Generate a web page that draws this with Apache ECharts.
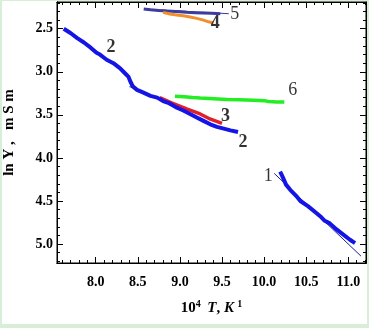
<!DOCTYPE html>
<html><head><meta charset="utf-8">
<script src="https://cdn.jsdelivr.net/npm/echarts@6/dist/echarts.min.js"></script>
<style>
html,body{margin:0;padding:0;background:#d9eed9;width:369px;height:328px;overflow:hidden;}
#c{position:absolute;left:2px;top:1px;width:365px;height:323px;background:#fff;}
</style>
</head><body><div id="c"></div>
<script>
// ---- data ----
var xTickLabels = [8.0, 8.5, 9.0, 9.5, 10.0, 10.5, 11.0];
var yTickLabels = [2.5, 3.0, 3.5, 4.0, 4.5, 5.0];

var curve1 = [[10.19,4.16],[10.22,4.22],[10.26,4.31],[10.31,4.37],[10.38,4.44],[10.43,4.50],[10.52,4.56],[10.62,4.64],[10.68,4.69],[10.72,4.73],[10.78,4.76],[10.86,4.83],[10.94,4.89],[11.02,4.95],[11.08,4.99]];
var fit1 = [[10.12,4.18],[11.15,5.14]];
var curve2 = [[7.62,2.50],[7.70,2.55],[7.78,2.61],[7.86,2.66],[7.94,2.72],[8.01,2.78],[8.05,2.80],[8.13,2.86],[8.21,2.90],[8.29,2.96],[8.35,3.02],[8.39,3.06],[8.41,3.11],[8.44,3.17],[8.49,3.21],[8.56,3.24],[8.65,3.28],[8.73,3.30],[8.80,3.34],[8.86,3.36],[8.95,3.41],[9.04,3.45],[9.12,3.49],[9.20,3.53],[9.28,3.57],[9.36,3.61],[9.44,3.64],[9.52,3.66],[9.60,3.68],[9.69,3.70]];
var fit2 = [[8.40,3.174],[8.47,3.186]];
var curve3 = [[8.76,3.30],[8.90,3.36],[9.08,3.43],[9.24,3.49],[9.34,3.54],[9.42,3.57],[9.50,3.60]];
var curve4 = [[8.80,2.31],[8.88,2.33],[8.96,2.34],[9.04,2.35],[9.12,2.365],[9.20,2.38],[9.28,2.40],[9.34,2.42],[9.40,2.434]];
var curve5 = [[8.57,2.27],[8.65,2.28],[8.75,2.29],[8.84,2.295],[8.95,2.30],[9.08,2.31],[9.18,2.315],[9.28,2.318],[9.38,2.322],[9.48,2.326]];
var fit5 = [[8.60,2.272],[9.58,2.326]];
var curve6 = [[8.94,3.285],[9.05,3.29],[9.15,3.30],[9.24,3.305],[9.35,3.31],[9.45,3.315],[9.56,3.322],[9.70,3.325],[9.87,3.33],[10.00,3.335],[10.05,3.345],[10.15,3.35],[10.24,3.35]];
var curveLabels = [
  {name:'5', value:[9.65,2.33]},
  {name:'4', value:[9.42,2.44]},
  {name:'2', value:[8.18,2.72]},
  {name:'6', value:[10.34,3.22]},
  {name:'3', value:[9.54,3.52]},
  {name:'2', value:[9.75,3.82]},
  {name:'1', value:[10.05,4.21]}
];

(function(){
var FONT = 'Liberation Serif';
var xMin = 7.54, xMax = 11.21, yMin = 2.19, yMax = 5.22;

// tick-only axes: no interval set, so ECharts places ticks at nice multiples (0.5 major / 0.1 minor);
// negative length draws them inward
function xTickAxis(pos, split, len) {
  return {type:'value', position:pos, min:xMin, max:xMax, splitNumber:split,
    axisLine:{show:true, onZero:false, lineStyle:{color:'#000', width:1}}, splitLine:{show:false}, axisLabel:{show:false},
    axisTick:{show:true, inside:false, length:-len, lineStyle:{color:'#000', width:1}}};
}
function yTickAxis(pos, split, len) {
  return {type:'value', position:pos, min:yMin, max:yMax, inverse:true, splitNumber:split,
    axisLine:{show:true, onZero:false, lineStyle:{color:'#000', width:1}}, splitLine:{show:false}, axisLabel:{show:false},
    axisTick:{show:true, inside:false, length:-len, lineStyle:{color:'#000', width:1}}};
}

var xMain = {
  type:'value', position:'bottom', min:xMin, max:xMax,
  axisLine:{show:false, onZero:false}, axisTick:{show:false}, splitLine:{show:false},
  axisLabel:{customValues:xTickLabels, margin:12, fontFamily:FONT, fontWeight:'bold', fontSize:14, color:'#000',
    formatter:function(v){return v.toFixed(1);}},
  name:'{n|10}{s|4}  {i|T}{n|, }{i|K} {s|1}', nameLocation:'middle', nameGap:36,
  nameTextStyle:{rich:{
    n:{fontFamily:FONT, fontWeight:'bold', fontSize:15, color:'#000'},
    i:{fontFamily:FONT, fontWeight:'bold', fontStyle:'italic', fontSize:15, color:'#000'},
    s:{fontFamily:FONT, fontWeight:'bold', fontSize:10, color:'#000', verticalAlign:'top', padding:[0,0,8,0]}
  }}
};
var yMain = {
  type:'value', position:'left', min:yMin, max:yMax, inverse:true,
  axisLine:{show:false, onZero:false}, axisTick:{show:false}, splitLine:{show:false},
  axisLabel:{customValues:yTickLabels, margin:4, fontFamily:FONT, fontWeight:'bold', fontSize:14, color:'#000',
    formatter:function(v){return v.toFixed(1);}},
  name:'ln Y ,   m S m', nameLocation:'middle', nameGap:40, nameRotate:90,
  nameTextStyle:{fontFamily:FONT, fontWeight:'bold', fontSize:15, color:'#000'}
};

function line(data, color, width, z) {
  return {type:'line', data:data, xAxisIndex:0, yAxisIndex:0, showSymbol:false, symbol:'none',
    lineStyle:{color:color, width:width}, z:z, animation:false};
}
var boldNames = {'2':true, '3':true, '4':true};
var labelData = curveLabels.map(function(d){
  return {name:d.name, value:d.value, label:{fontWeight: boldNames[d.name] ? 'bold' : 'normal'}};
});

var chart = echarts.init(document.getElementById('c'), null, {renderer:'canvas'});
chart.setOption({
  animation:false,
  backgroundColor:'#fff',
  grid:{left:55, top:1, right:1, bottom:61, containLabel:false, outerBoundsMode:'none',
        show:true, borderColor:'#000', borderWidth:1, backgroundColor:'transparent'},
  xAxis: [xMain, xTickAxis('top', 7, 6), xTickAxis('bottom', 7, 6), xTickAxis('top', 37, 3), xTickAxis('bottom', 37, 3)],
  yAxis: [yMain, yTickAxis('right', 6, 6), yTickAxis('left', 6, 6), yTickAxis('right', 30, 3), yTickAxis('left', 30, 3)],
  series:[
    line(fit1, '#1c1c9c', 1, 2),
    line(curve1, '#1414e6', 4, 3),
    line(curve3, '#e0202a', 3.5, 2),
    line(curve2, '#1414e6', 4, 3),
    line(fit2, '#1c1c9c', 1, 4),
    line(fit5, '#3a3a9a', 1, 2),
    line(curve5, '#3c3ca0', 3, 3),
    line(curve4, '#f0902a', 3, 4),
    line(curve6, '#22ee22', 3.5, 3),
    {type:'scatter', data:labelData, symbolSize:0, xAxisIndex:0, yAxisIndex:0, z:10,
      label:{show:true, position:'inside', formatter:'{b}', fontFamily:FONT, fontSize:18, color:'#000'}}
  ]
});
})();
</script></body></html>
